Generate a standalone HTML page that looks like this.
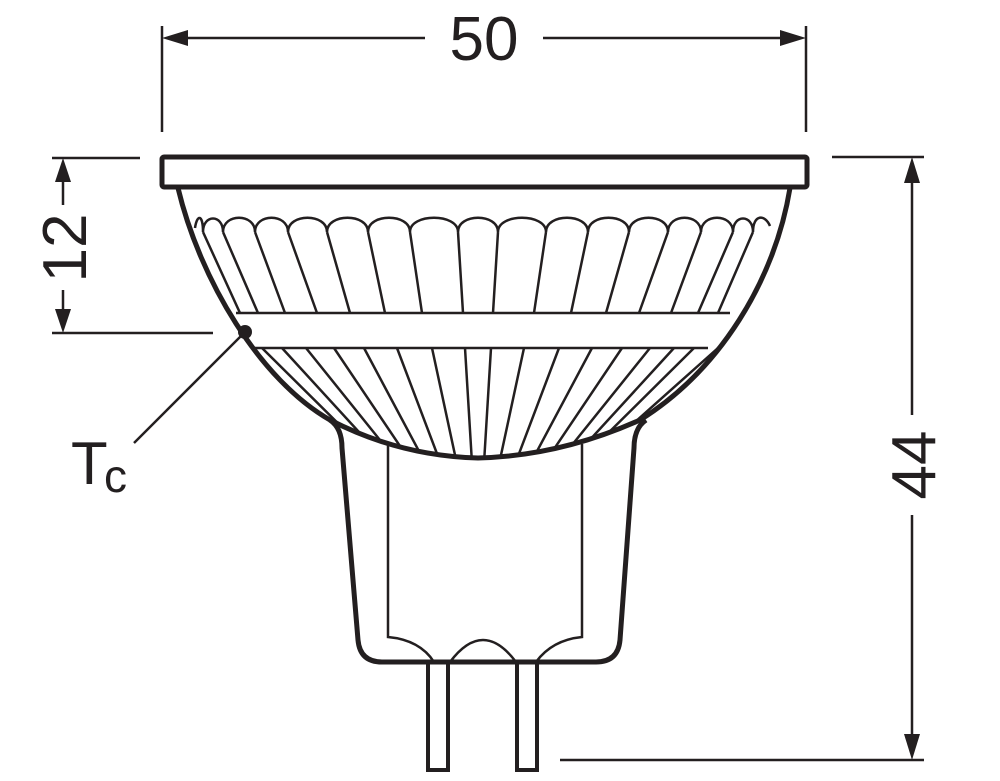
<!DOCTYPE html>
<html><head><meta charset="utf-8"><style>
html,body{margin:0;padding:0;background:#fff;}
svg{display:block;}
text{font-family:"Liberation Sans",sans-serif;fill:#231f20;}
</style></head><body>
<svg width="1000" height="781" viewBox="0 0 1000 781" xmlns="http://www.w3.org/2000/svg">
<defs>
<clipPath id="refl"><path d="M178,188 C200,280 260,380 330,420 Q400,456 478,458 Q560,456 640,420 C720,370 775,280 790,188 Z"/></clipPath>
</defs>
<g stroke="#231f20" fill="none" stroke-linecap="butt">
<line x1="162" y1="26" x2="162" y2="132" stroke-width="2.5"/>
<line x1="806" y1="26" x2="806" y2="132" stroke-width="2.5"/>
<line x1="185" y1="38" x2="425" y2="38" stroke-width="2.5"/>
<line x1="543" y1="38" x2="783" y2="38" stroke-width="2.5"/>
<line x1="832" y1="157" x2="924" y2="157" stroke-width="2.5"/>
<line x1="560" y1="760" x2="924" y2="760" stroke-width="2.5"/>
<line x1="912" y1="180" x2="912" y2="415" stroke-width="2.5"/>
<line x1="912" y1="515" x2="912" y2="737" stroke-width="2.5"/>
<line x1="52" y1="158" x2="140" y2="158" stroke-width="2.5"/>
<line x1="52" y1="333" x2="213" y2="333" stroke-width="2.5"/>
<line x1="63" y1="180" x2="63" y2="205" stroke-width="2.5"/>
<line x1="63" y1="290" x2="63" y2="312" stroke-width="2.5"/>
<line x1="245" y1="332" x2="134" y2="443" stroke-width="2.5"/>
<rect x="162" y="157" width="645" height="30" rx="2" stroke-width="5"/>
<g clip-path="url(#refl)" stroke-width="2.5">
<path d="M203,232 L240,313 M223,232 L258,313 M255,232 L285,313 M288,232 L317,313 M327,232 L350,313 M368,232 L385,313 M410,232 L422,313 M458,232 L463,313 M498,232 L493,313 M546,232 L534,313 M588,232 L571,313 M629,232 L606,313 M668,232 L639,313 M701,232 L671,313 M733,232 L698,313 M753,232 L718,313"/>
<path d="M195,228 C197,214 203,214 203,232 C203,214 223,214 223,232 C223,213 255,213 255,232 C255,213 288,213 288,232 C288,213 327,213 327,232 C327,213 368,213 368,232 C368,213 410,213 410,232 C410,213 458,213 458,232 C458,213 498,213 498,232 C498,213 546,213 546,232 C546,213 588,213 588,232 C588,213 629,213 629,232 C629,213 668,213 668,232 C668,213 701,213 701,232 C701,213 733,213 733,232 C733,214 753,214 753,232 C753,214 765,214 770,226"/>
<path d="M238,348 L478,562 M262,348 L478,562 M282,348 L478,562 M306,348 L478,562 M334,348 L478,562 M364,348 L478,562 M397,348 L478,562 M432,348 L478,562 M465,348 L478,562 M491,348 L478,562 M524,348 L478,562 M559,348 L478,562 M592,348 L478,562 M622,348 L478,562 M650,348 L478,562 M674,348 L478,562 M694,348 L478,562 M718,348 L478,562"/>
</g>
<line x1="236" y1="313" x2="730" y2="313" stroke-width="2.5"/>
<line x1="252" y1="348" x2="708" y2="348" stroke-width="2.5"/>
<path d="M178,188 C200,280 260,380 330,420 Q400,456 478,458 Q560,456 640,420 C720,370 775,280 790,188" stroke-width="5"/>
<path d="M330,420 Q342,428 342,448 L358,640 Q360,662 382,662 L596,662 Q618,662 620,640 L634,448 Q634,428 646,420" stroke-width="5" stroke-linejoin="round"/>
<path d="M388,444 L388,637 Q420,640 434,662 M450,662 Q483,618 516,662 M536,662 Q552,640 582,637 L582,444" stroke-width="2.5"/>
<rect x="428" y="662" width="20" height="108" stroke-width="4"/>
<rect x="517" y="662" width="20" height="108" stroke-width="4"/>
</g>
<g fill="#231f20">
<circle cx="245" cy="332" r="7"/>
<polygon points="162,38 188,30 188,46"/>
<polygon points="806,38 780,30 780,46"/>
<polygon points="912,157 904,183 920,183"/>
<polygon points="912,760 904,734 920,734"/>
<polygon points="63,158 55,182 71,182"/>
<polygon points="63,333 55,309 71,309"/>
</g>
<text x="484" y="60" font-size="62" text-anchor="middle">50</text>
<text transform="translate(935,465) rotate(-90)" font-size="62" text-anchor="middle">44</text>
<text transform="translate(86,248) rotate(-90)" font-size="62" text-anchor="middle">12</text>
<text x="71" y="484" font-size="60">T</text>
<text x="104" y="492" font-size="46">c</text>
</svg>
</body></html>
